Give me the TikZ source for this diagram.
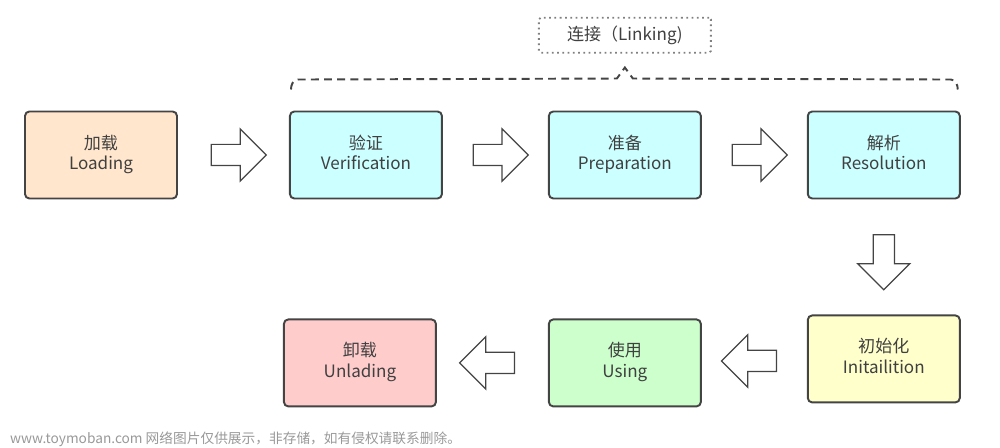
\documentclass[tikz,border=0pt]{standalone}
\usepackage{fontspec}
\setmainfont{Noto Sans CJK SC}
\usepackage{tikz}
\usetikzlibrary{positioning}
\usetikzlibrary{shapes.arrows, calc}
\definecolor{edge}{RGB}{68,68,68}
\definecolor{txt}{RGB}{64,64,64}
\definecolor{loadc}{RGB}{255,230,204}
\definecolor{linkc}{RGB}{204,255,255}
\definecolor{initc}{RGB}{255,255,204}
\definecolor{usec}{RGB}{204,255,204}
\definecolor{unloadc}{RGB}{255,204,204}

\begin{document}
\begin{tikzpicture}[stage/.style = {rectangle, draw=edge, line width=1.1pt, rounded corners=2.5pt, minimum width=3.04cm, minimum height=1.74cm, align=center, text=txt, font=\fontsize{9.7}{11.5}\selectfont},
        bigarrow/.style = {single arrow, draw=edge, fill=white, line width=0.7pt, minimum height=1.1cm, inner sep=0.2cm, single arrow head extend=0.31cm},
        brace/.style = {draw=edge, line width=1.1pt, dash pattern=on 4.5pt off 3pt}]
        \useasboundingbox (0,0) rectangle (20,8.96);
        \node[stage, fill=loadc] (load) at (2.02,5.86) {加载\\Loading\strut};
        \node[stage, fill=linkc] (verify) [right=2.22cm of load] {验证\\Verification\strut};
        \node[stage, fill=linkc] (prep) [right=2.1cm of verify] {准备\\Preparation\strut};
        \node[stage, fill=linkc] (resolve) [right=2.1cm of prep] {解析\\Resolution\strut};
        \node[stage, fill=initc] (init) [below=2.30cm of resolve] {初始化\\Initailition\strut};
        \node[stage, fill=usec] (use) [below=2.38cm of prep] {使用\\Using\strut};
        \node[stage, fill=unloadc] (unload) [left=2.22cm of use] {卸载\\Unlading\strut};
        % block arrows between the stages
        \node[bigarrow] (a1) at ($(load.east)!0.5!(verify.west)$) {};
        \node[bigarrow] (a2) at ($(verify.east)!0.5!(prep.west)$) {};
        \node[bigarrow] (a3) at ($(prep.east)!0.5!(resolve.west)$) {};
        \node[bigarrow, shape border rotate=270] (a4) at ($(resolve.south)!0.5!(init.north)$) {};
        \node[bigarrow, shape border rotate=180] (a5) at ($(init.west)!0.5!(use.east)$) {};
        \node[bigarrow, shape border rotate=180] (a6) at ($(use.west)!0.5!(unload.east)$) {};
        % linking brace
        \coordinate (bl) at ($(verify.north west)+(0.04,0.42)$);
        \coordinate (br) at ($(resolve.north east)+(-0.06,0.42)$);
        \coordinate (tip) at ($(prep.north)+(0,0.86)$);
        \draw[brace] (bl) to[out=90,in=180] ++(0.14,0.2) -- ($(tip)+(-0.16,-0.22)$) -- (tip) -- ($(tip)+(0.16,-0.22)$) -- ($(br)+(-0.14,0.2)$) to[out=0,in=90] (br);
        \node[draw=gray, dotted, line width=1pt, rounded corners=1pt, minimum width=3.44cm, minimum height=0.7cm, text=txt, font=\fontsize{9.7}{11.5}\selectfont] (link) [above=0.28cm of tip] {连接（Linking)};
        \node[anchor=west, text=gray!80, font=\fontsize{7.8}{9}\selectfont] (mark) at (0.08,0.18) {www.toymoban.com 网络图片仅供展示，非存储，如有侵权请联系删除。};
    \end{tikzpicture}
\end{document}
